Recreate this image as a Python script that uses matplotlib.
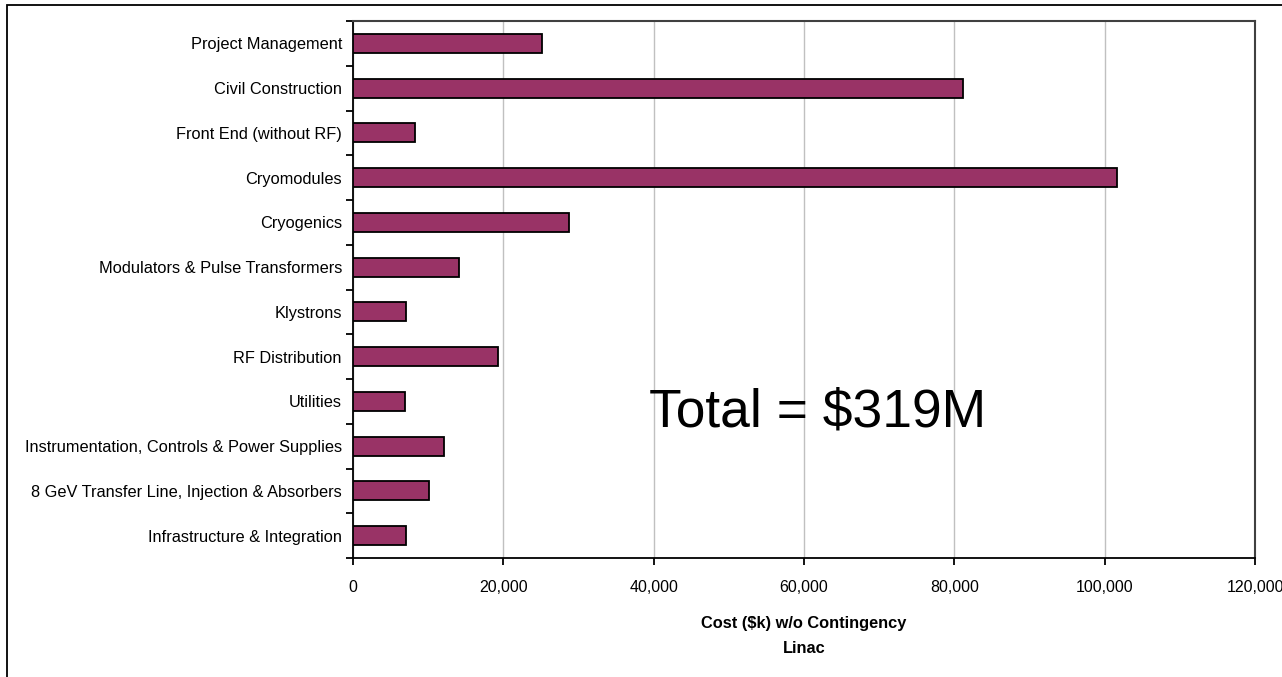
import matplotlib
matplotlib.use("Agg")
import matplotlib.pyplot as plt
from matplotlib.patches import Rectangle
from matplotlib.ticker import FuncFormatter
import numpy as np

plt.rcParams["font.family"] = ["Liberation Sans", "DejaVu Sans"]

categories = [
    "Project Management",
    "Civil Construction",
    "Front End (without RF)",
    "Cryomodules",
    "Cryogenics",
    "Modulators & Pulse Transformers",
    "Klystrons",
    "RF Distribution",
    "Utilities",
    "Instrumentation, Controls & Power Supplies",
    "8 GeV Transfer Line, Injection & Absorbers",
    "Infrastructure & Integration",
]
costs = [25200, 81100, 8200, 101600, 28700, 14100, 7050, 19300, 6900, 12100, 10100, 7050]
x_ticks = [0, 20000, 40000, 60000, 80000, 100000, 120000]

fig = plt.figure(figsize=(12.82, 6.77), dpi=100)
W, H = 1282, 677
ax = fig.add_axes([353 / W, 1 - 558 / H, (1255 - 353) / W, (558 - 21) / H])

y = np.arange(len(categories))
ax.barh(y, costs, height=0.43, color="#993366", edgecolor="black", linewidth=1.3, zorder=3)
ax.set_ylim(len(categories) - 0.5, -0.5)
ax.set_xlim(0, 120000)

ax.set_yticks(y)
ax.set_yticklabels(categories, fontsize=11.8)
ax.set_yticks(np.arange(len(categories) + 1) - 0.5, minor=True)
ax.tick_params(axis="y", which="major", length=0, pad=8)
ax.tick_params(axis="y", which="minor", length=5, width=1.3, direction="out")

ax.set_xticks(x_ticks)
ax.xaxis.set_major_formatter(FuncFormatter(lambda v, p: f"{int(v):,}"))
ax.tick_params(axis="x", length=5, width=1.3, direction="out", labelsize=11.5, pad=11)
ax.grid(axis="x", color="#c0c0c0", linewidth=1, zorder=0)

for s in ["top", "right"]:
    ax.spines[s].set_color("#404040")
    ax.spines[s].set_linewidth(1.5)
ax.spines["left"].set_linewidth(1.3)
ax.spines["bottom"].set_linewidth(1.3)

ax.set_xlabel("Cost ($k) w/o Contingency\nLinac", fontsize=11.8, fontweight="bold",
              labelpad=15, linespacing=1.8)

fig.text(818 / W, 1 - 413 / H, "Total = $319M", fontsize=38.4, ha="center", va="center")

fig.patches.append(Rectangle((7 / W, -0.01), 1.0, 1 - 5 / H + 0.01, transform=fig.transFigure,
                             fill=False, edgecolor="black", linewidth=1.3))

fig.savefig("out.png", dpi=100)
